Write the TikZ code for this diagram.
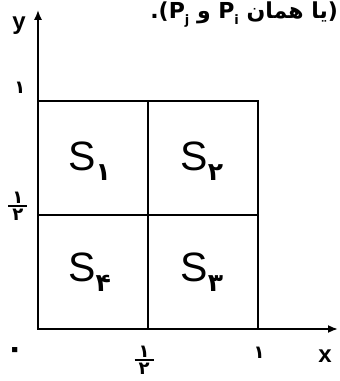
\documentclass[tikz,border=0pt]{standalone}
\usepackage{amsmath}
\usepackage{fontspec}
\setmainfont{Liberation Sans}
\newfontfamily\pd[Script=Arabic]{DejaVu Sans}
\TeXXeTstate=1
\usepackage{tikz}
\usetikzlibrary{arrows.meta}
\newcommand{\half}{$\genfrac{}{}{1.8pt}{}{\makebox[19pt]{\pd\bfseries ۱}}{\makebox[19pt]{\pd\bfseries ۲}}$}
\newcommand{\Scell}[1]{S\raisebox{-10pt}{\pd\bfseries\fontsize{25}{25}\selectfont #1}}
\newcommand{\Psub}[1]{P\raisebox{-6pt}{\fontsize{13}{13}\selectfont #1}}
\tikzset{
	axisline/.style ={line width=2pt, -{Latex[length=10pt,width=8pt]}},
	boxline/.style  ={line width=2.2pt},
	gridline/.style ={line width=1.3pt},
	cellname/.style ={font=\fontsize{41}{41}\selectfont, inner sep=0pt},
	ticklabel/.style={font=\pd\bfseries\fontsize{18}{20}\selectfont, inner sep=0pt},
	axlabel/.style  ={font=\bfseries\fontsize{24}{24}\selectfont, inner sep=0pt},
	toptext/.style  ={font=\pd\bfseries\fontsize{22}{22}\selectfont, inner sep=0pt},
}
\begin{document}
\begin{tikzpicture}[x=220pt, y=228pt]
	\useasboundingbox (-38pt,-52pt) rectangle (302pt,329pt);
	\clip (-38pt,-52pt) rectangle (302pt,329pt);
	% axes
	\coordinate (O) at (0,0);
	\coordinate (xtip) at (1.364,0);
	\coordinate (ytip) at (0,1.40);
	\draw[axisline] (O) -- (xtip);
	\draw[axisline] (O) -- (ytip);
	% unit square cut in four
	\draw[boxline] (O) rectangle (1,1);
	\draw[gridline] (0.5,0) -- (0.5,1);
	\draw[gridline] (0,0.5) -- (1,0.5);
	\node[cellname] (s1) at (0.235,0.735) {\Scell{۱}};
	\node[cellname] (s2) at (0.745,0.735) {\Scell{۲}};
	\node[cellname] (s4) at (0.235,0.25) {\Scell{۴}};
	\node[cellname] (s3) at (0.745,0.25) {\Scell{۳}};
	% ticks
	\node[ticklabel, font=\pd\bfseries\fontsize{30}{30}\selectfont] (zero) at (-0.105,-0.105) {۰};
	\node[ticklabel] (xhalf) at (0.482,-0.136) {\half};
	\node[ticklabel] (xone) at (1.005,-0.105) {۱};
	\node[ticklabel] (yhalf) at (-0.091,0.54) {\half};
	\node[ticklabel] (yone) at (-0.082,1.057) {۱};
	\node[axlabel] (xlab) at (1.305,-0.118) {x};
	\node[axlabel] (ylab) at (-0.086,1.33) {y};
	% line of text above
	\node[toptext, anchor=base east] (note) at (1.364,1.364) {\beginR(یا همان \beginL\Psub{i}\endL{} و \beginL\Psub{j}\endL{}).\endR};
\end{tikzpicture}
\end{document}
